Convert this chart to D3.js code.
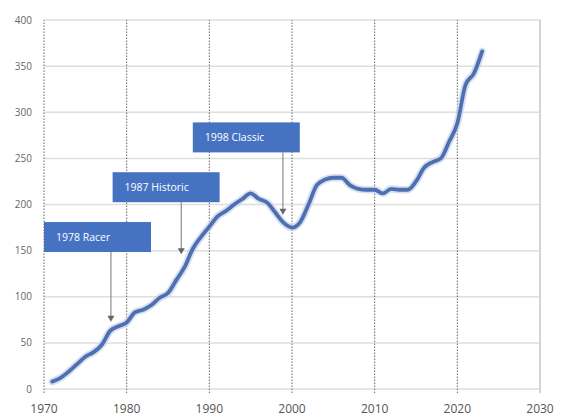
<!DOCTYPE html>
<html>
<head>
<meta charset="utf-8">
<script src="https://cdn.jsdelivr.net/npm/d3@7"></script>
<style>
  body { margin: 0; background: #fff; }
  text { font-family: "Open Sans", "Liberation Sans", sans-serif; }
</style>
</head>
<body>
<div id="chart"></div>
<script>
// series values, one per year
const years = d3.range(1971, 2024);
const values = [
  8, 12, 19, 27, 35, 40, 48, 63, 68, 72,
  83, 86, 91, 99, 104, 118, 132, 152, 165, 176,
  187, 193, 200, 206, 212, 206, 202, 191, 180, 175,
  181, 200, 221, 227, 229, 229, 221, 217, 216, 216,
  212, 217, 216, 216, 225, 240, 246, 250, 268, 288,
  330, 342, 366
];

// axis ticks
const xTicks = [1970, 1980, 1990, 2000, 2010, 2020, 2030];
const yTicks = [0, 50, 100, 150, 200, 250, 300, 350, 400];

// annotations
const annLabels = ["1978 Racer", "1987 Historic", "1998 Classic"];
const annYears = [1978.1, 1986.6, 1998.9];   // arrow x
const annTargets = [73, 146, 189];           // arrow tip value
const annBoxLeft = [1970, 1978.3, 1988.0];   // box left edge (year)
const annBoxTop = [181, 235, 289];           // box top edge (value)

// chart dimensions
const W = 562, H = 420;
const MARGIN = { top: 20, right: 22, bottom: 31, left: 44 };

const svg = d3.select("#chart").append("svg")
  .attr("width", W).attr("height", H);

const x = d3.scaleLinear().domain([1970, 2030]).range([MARGIN.left, W - MARGIN.right]);
const y = d3.scaleLinear().domain([0, 400]).range([H - MARGIN.bottom, MARGIN.top]);

// horizontal grid
svg.append("g").selectAll("line").data(yTicks).join("line")
  .attr("x1", x(1970)).attr("x2", x(2030))
  .attr("y1", d => y(d)).attr("y2", d => y(d))
  .attr("stroke", "#dedede").attr("stroke-width", 1.5);

// vertical grid (dotted), last one plain light gray
svg.append("g").selectAll("line").data(xTicks).join("line")
  .attr("x1", d => x(d)).attr("x2", d => x(d))
  .attr("y1", y(0) + 4).attr("y2", y(400))
  .attr("stroke", d => d === 2030 ? "#d4d4d4" : "#666")
  .attr("stroke-width", d => d === 2030 ? 2 : 1)
  .attr("stroke-dasharray", d => d === 2030 ? null : "1.5,1.5");

// y tick labels
svg.append("g").selectAll("text").data(yTicks).join("text")
  .attr("x", MARGIN.left - 12).attr("y", d => y(d))
  .attr("dy", "0.35em").attr("text-anchor", "end")
  .attr("font-size", 10).attr("fill", "#666")
  .text(d => d);

// x tick labels
svg.append("g").selectAll("text").data(xTicks).join("text")
  .attr("x", d => x(d)).attr("y", y(0) + 20)
  .attr("dy", "0.35em").attr("text-anchor", "middle")
  .attr("font-size", 12).attr("fill", "#555")
  .text(d => d);

// line with a soft halo
const line = d3.line().x((d, i) => x(years[i])).y(d => y(d)).curve(d3.curveMonotoneX);
svg.append("path").datum(values)
  .attr("d", line).attr("fill", "none")
  .attr("stroke", "#c5d3ee").attr("stroke-width", 7.5)
  .attr("stroke-linejoin", "round").attr("stroke-linecap", "round").attr("opacity", 0.7);
svg.append("path").datum(values)
  .attr("d", line).attr("fill", "none")
  .attr("stroke", "#4f6fb0").attr("stroke-width", 3.8)
  .attr("stroke-linejoin", "round").attr("stroke-linecap", "round");

// annotations: box + arrow
const BOX_W = 107, BOX_H = 30;
const ann = svg.append("g").selectAll("g").data(annLabels).join("g");

ann.append("line")
  .attr("x1", (d, i) => x(annYears[i])).attr("x2", (d, i) => x(annYears[i]))
  .attr("y1", (d, i) => y(annBoxTop[i]) + BOX_H)
  .attr("y2", (d, i) => y(annTargets[i]) - 5)
  .attr("stroke", "#777").attr("stroke-width", 1);

ann.append("path")
  .attr("d", (d, i) => {
    const ax = x(annYears[i]), ay = y(annTargets[i]);
    return `M${ax - 3.5},${ay - 6}L${ax + 3.5},${ay - 6}L${ax},${ay}Z`;
  })
  .attr("fill", "#666");

ann.append("rect")
  .attr("x", (d, i) => x(annBoxLeft[i])).attr("y", (d, i) => y(annBoxTop[i]))
  .attr("width", BOX_W).attr("height", BOX_H)
  .attr("fill", "#4672c2");

ann.append("text")
  .attr("x", (d, i) => x(annBoxLeft[i]) + 12)
  .attr("y", (d, i) => y(annBoxTop[i]) + BOX_H / 2)
  .attr("dy", "0.35em")
  .attr("font-size", 10.5).attr("fill", "#ffffff")
  .text(d => d);
</script>
</body>
</html>
